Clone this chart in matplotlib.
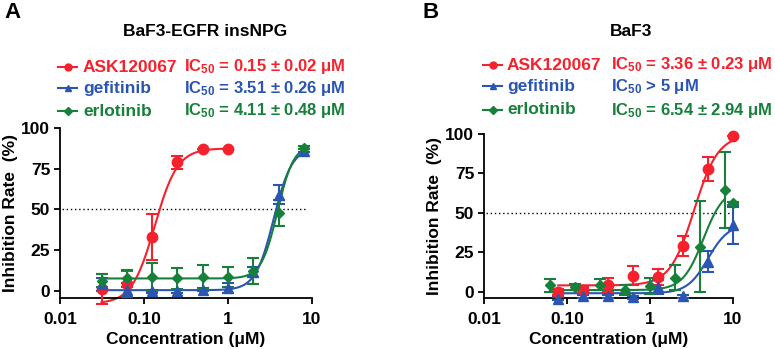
import numpy as np
import matplotlib
matplotlib.use('Agg')
import matplotlib.pyplot as plt
from matplotlib.lines import Line2D

W, H = 775, 349
RED, BLUE, GREEN = '#f5222d', '#2a55b0', '#17803a'
plt.rcParams.update({
    'font.family': 'Liberation Sans', 'font.weight': 'bold',
    'axes.labelweight': 'bold', 'mathtext.fontset': 'custom',
    'mathtext.rm': 'Liberation Sans:bold', 'mathtext.default': 'rm',
    'axes.linewidth': 1.3, 'xtick.major.width': 1.3, 'ytick.major.width': 1.3,
    'xtick.major.size': 4, 'ytick.major.size': 4,
})

NAMES = ['ASK120067', 'gefitinib', 'erlotinib']
COLORS = [RED, BLUE, GREEN]
MARKERS = ['o', '^', 'D']
MSIZES = [7.5, 7, 5.5]

# panel A: BaF3-EGFR insNPG
A_red_x = [0.03125, 0.0625, 0.125, 0.25, 0.5, 1]
A_red_y = [1, 4, 33, 79, 87, 87]
A_red_err = [9, 8, 14, 4, 0, 0]
A_gef_x = [0.03125, 0.0625, 0.125, 0.25, 0.5, 1, 2, 4, 8]
A_gef_y = [4, 0.5, -0.5, -0.5, 0.5, 1.8, 11.5, 59, 86]
A_gef_err = [4, 4.5, 1, 1, 1, 3, 3, 6, 1]
A_erl_x = [0.03125, 0.0625, 0.125, 0.25, 0.5, 1, 2, 4, 8]
A_erl_y = [6, 7.5, 8.5, 7.5, 8.5, 8.5, 12, 48, 88]
A_erl_err = [4, 5.5, 8.5, 6.5, 7.5, 6, 8, 8, 1]
# Hill fit params: bottom, top, ic50, slope, xmin, xmax
A_fits = [(-8, 87.5, 0.134, 3.2, 0.03125, 1),
          (0.3, 88, 3.5, 4.0, 0.03125, 8),
          (7.5, 90, 3.88, 4.5, 0.03125, 8)]
A_ic50 = ['IC$_{50}$ = 0.15 ± 0.02 μM', 'IC$_{50}$ = 3.51 ± 0.26 μM',
          'IC$_{50}$ = 4.11 ± 0.48 μM']

# panel B: BaF3
B_red_x = [0.078125, 0.15625, 0.3125, 0.625, 1.25, 2.5, 5, 10]
B_red_y = [0, 1, 4, 10, 9.5, 29, 78, 99]
B_red_err = [2, 2, 4.5, 6, 5, 6.5, 7.5, 0]
B_gef_x = [0.078125, 0.15625, 0.3125, 0.625, 1.25, 2.5, 5, 10]
B_gef_y = [-4.5, -3, -3, -3.5, 3, -3, 19, 42]
B_gef_err = [1, 1, 1, 1, 4.5, 1, 6.5, 12]
B_erl_x = [0.0625, 0.125, 0.25, 0.5, 1, 2, 4, 8, 10]
B_erl_y = [4, 3, 4.5, 1, 3.5, 9, 28.5, 64.5, 56]
B_erl_err = [4, 2, 3.5, 3, 5, 8, 29, 24, 1]
B_fits = [(4, 99.5, 3.4, 3.0, 0.078125, 10),
          (-1, 43, 5.0, 3.5, 0.078125, 10),
          (1, 66, 4.4, 3.5, 0.0625, 8)]
B_ic50 = ['IC$_{50}$ = 3.36 ± 0.23 μM', 'IC$_{50}$ > 5 μM',
          'IC$_{50}$ = 6.54 ± 2.94 μM']


def fx(x):
    return x / W


def fy(y):
    return 1 - y / H


def hill(x, bottom, top, ic50, h):
    return bottom + (top - bottom) / (1 + (ic50 / x) ** h)


def panel(rect, series, fits, ymin, hline_end):
    ax = fig.add_axes(rect)
    for (x, y, e), fit, c, m, ms in zip(series, fits, COLORS, MARKERS, MSIZES):
        b, t, ic, h, x0, x1 = fit
        xs = np.logspace(np.log10(x0), np.log10(x1), 200)
        ax.plot(xs, hill(xs, b, t, ic, h), color=c, lw=1.5, clip_on=False, zorder=2)
        ax.errorbar(x, y, yerr=e, fmt=m, color=c, ms=ms, capsize=4, elinewidth=1.5,
                    capthick=1.5, clip_on=False, zorder=3)
    ax.plot([0.0105, hline_end], [50, 50], ls=(0, (1, 2)), color='black', lw=1, zorder=1)
    ax.set_xscale('log')
    ax.set_xlim(0.01, 10)
    ax.set_ylim(ymin, 100)
    ax.set_xticks([0.01, 0.1, 1, 10], ['0.01', '0.10', '1', '10'])
    ax.minorticks_off()
    ax.set_yticks([0, 25, 50, 75, 100])
    ax.tick_params(labelsize=12.5, pad=3)
    ax.tick_params(axis='x', pad=6)
    ax.spines[['top', 'right']].set_visible(False)
    ax.spines['left'].set_bounds(ymin, 100)
    ax.set_xlabel('Concentration (μM)', fontsize=12.5, labelpad=4)
    ax.set_ylabel('Inhibition Rate  (%)', fontsize=12.5, labelpad=2)
    return ax


def legend(rows_y, lx0, lx1, tx, icx, ic_texts):
    for y, name, c, m, ic in zip(rows_y, NAMES, COLORS, MARKERS, ic_texts):
        fig.add_artist(Line2D([fx(lx0), fx(lx1)], [fy(y), fy(y)], color=c, lw=1.5,
                              transform=fig.transFigure))
        fig.add_artist(Line2D([fx((lx0 + lx1) / 2)], [fy(y)], color=c, marker=m,
                              ms=5 if m != 'D' else 4, transform=fig.transFigure))
        fig.text(fx(tx), fy(y), name, color=c, fontsize=12.5, va='center', ha='left')
        fig.text(fx(icx), fy(y), ic, color=c, fontsize=12, va='center', ha='left')


fig = plt.figure(figsize=(W / 100, H / 100), dpi=100)

panel([fx(60), fy(298), fx(252), (298 - 128) / H],
      [(A_red_x, A_red_y, A_red_err), (A_gef_x, A_gef_y, A_gef_err),
       (A_erl_x, A_erl_y, A_erl_err)], A_fits, -4.5, 8.5)
panel([fx(484), fy(298), fx(249), (298 - 134) / H],
      [(B_red_x, B_red_y, B_red_err), (B_gef_x, B_gef_y, B_gef_err),
       (B_erl_x, B_erl_y, B_erl_err)], B_fits, -4, 10)

fig.text(fx(4), fy(12), 'A', fontsize=16, va='center', ha='left')
fig.text(fx(423), fy(12), 'B', fontsize=16, va='center', ha='left')
fig.text(fx(205), fy(31), 'BaF3-EGFR insNPG', fontsize=12.5, va='center', ha='center')
fig.text(fx(631), fy(32), 'BaF3', fontsize=12.5, va='center', ha='center')

legend([67, 88, 111], 58, 77, 83, 184, A_ic50)
legend([65, 86, 110], 483, 502, 507, 611, B_ic50)

fig.savefig('out.png', dpi=100)
